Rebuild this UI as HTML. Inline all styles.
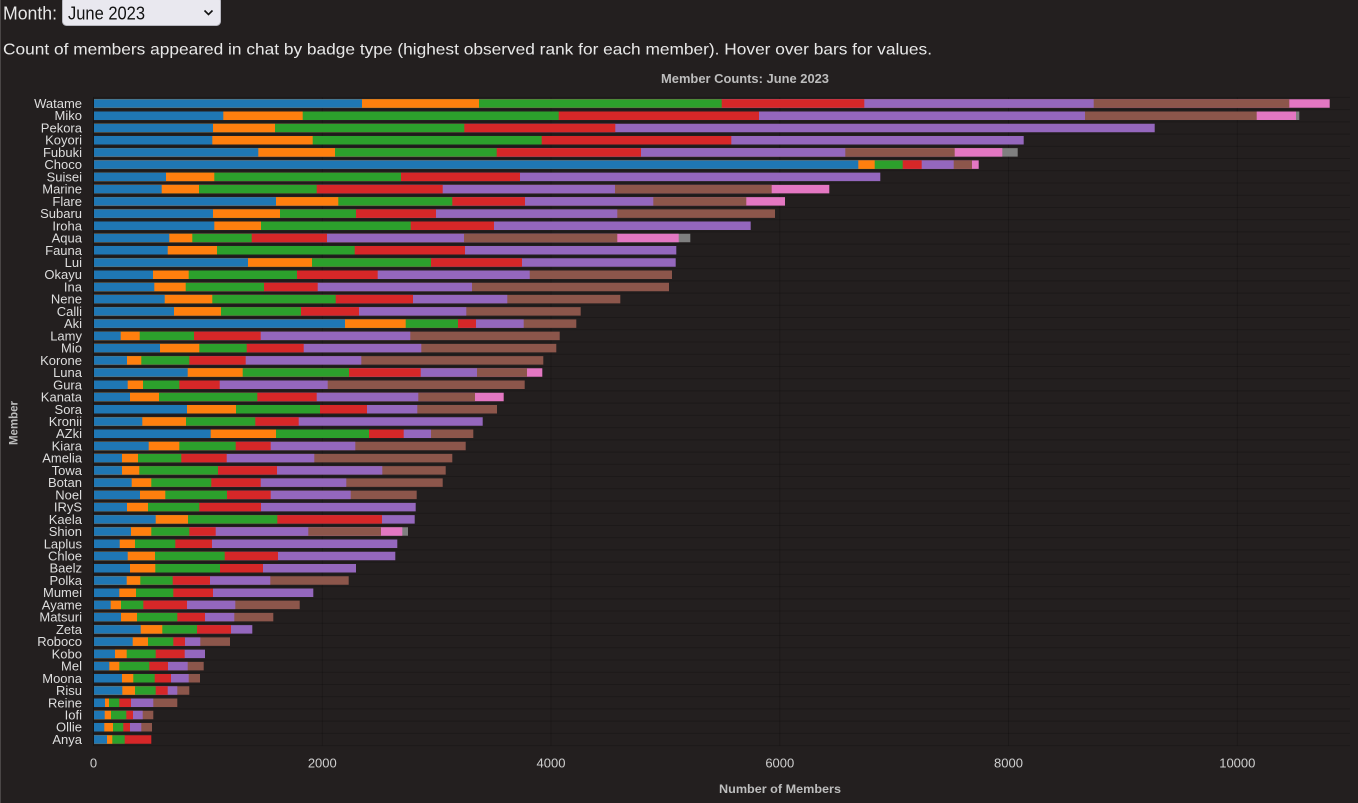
<!DOCTYPE html>
<html>
<head>
<meta charset="utf-8">
<style>
html,body{margin:0;padding:0;background:#231f1f;width:1358px;height:803px;overflow:hidden;}
svg{display:block;}
text{font-family:"Liberation Sans",Arial,sans-serif;}
</style>
</head>
<body>
<svg width="1358" height="803" viewBox="0 0 1358 803" xmlns="http://www.w3.org/2000/svg">
<rect x="0" y="0" width="1358" height="803" fill="#231f1f"/>
<line x1="0.5" y1="0" x2="0.5" y2="803" stroke="#4a4646" stroke-width="1"/>

<!-- header -->
<text x="3" y="19.5" font-size="18" fill="#e8e8e8" textLength="54" lengthAdjust="spacingAndGlyphs">Month:</text>
<rect x="62.5" y="-3" width="158" height="28.5" rx="4" ry="4" fill="#e9e8ef" stroke="#b8b8c0" stroke-width="1"/>
<text x="68" y="19.5" font-size="18" fill="#111" textLength="77" lengthAdjust="spacingAndGlyphs">June 2023</text>
<path d="M204.5 10.5 L208.5 14.5 L212.5 10.5" fill="none" stroke="#111" stroke-width="1.6"/>
<text x="3" y="54.3" font-size="16" fill="#e8e8e8" textLength="929" lengthAdjust="spacingAndGlyphs">Count of members appeared in chat by badge type (highest observed rank for each member). Hover over bars for values.</text>

<!-- title -->
<text x="745" y="83" font-size="13" font-weight="bold" fill="#bdbdbd" text-anchor="middle" textLength="168" lengthAdjust="spacingAndGlyphs">Member Counts: June 2023</text>

<!-- grid -->
<g stroke="rgba(0,0,0,0.18)" stroke-width="1" fill="none">
<path d="M93.5 97.4H1350M93.5 109.63H1350M93.5 121.86H1350M93.5 134.09H1350M93.5 146.32H1350M93.5 158.55H1350M93.5 170.78H1350M93.5 183.01H1350M93.5 195.24H1350M93.5 207.47H1350M93.5 219.7H1350M93.5 231.93H1350M93.5 244.16H1350M93.5 256.39H1350M93.5 268.62H1350M93.5 280.85H1350M93.5 293.08H1350M93.5 305.31H1350M93.5 317.54H1350M93.5 329.77H1350M93.5 342H1350M93.5 354.23H1350M93.5 366.46H1350M93.5 378.69H1350M93.5 390.92H1350M93.5 403.15H1350M93.5 415.38H1350M93.5 427.61H1350M93.5 439.84H1350M93.5 452.07H1350M93.5 464.3H1350M93.5 476.53H1350M93.5 488.76H1350M93.5 500.99H1350M93.5 513.22H1350M93.5 525.45H1350M93.5 537.68H1350M93.5 549.91H1350M93.5 562.14H1350M93.5 574.37H1350M93.5 586.6H1350M93.5 598.83H1350M93.5 611.06H1350M93.5 623.29H1350M93.5 635.52H1350M93.5 647.75H1350M93.5 659.98H1350M93.5 672.21H1350M93.5 684.44H1350M93.5 696.67H1350M93.5 708.9H1350M93.5 721.13H1350M93.5 733.36H1350M93.5 745.59H1350"/>
<path d="M322.3 97.4V745.6M551 97.4V745.6M779.8 97.4V745.6M1008.5 97.4V745.6M1237.3 97.4V745.6"/>
</g>
<line x1="93.5" y1="97.4" x2="93.5" y2="745.6" stroke="rgba(0,0,0,0.35)" stroke-width="1"/>

<!-- bars: drawn longest cumulative segment first -->
<g fill="none" stroke-width="8.5">
<path stroke="#7f7f7f" d="M94 115.73H1299.3M94 152.42H1017.7M94 238.03H690.3M94 531.55H408"/>
<path stroke="#e377c2" d="M94 103.5H1329.7M94 115.73H1296M94 152.42H1002.3M94 164.65H978.7M94 189.11H829.3M94 201.34H785M94 238.03H678.7M94 372.56H542.3M94 397.02H503.7M94 531.55H402.3"/>
<path stroke="#8c564b" d="M94 103.5H1289.3M94 115.73H1256.7M94 152.42H954.7M94 164.65H972M94 189.11H771.7M94 201.34H746.3M94 213.57H775M94 238.03H617.3M94 274.72H672M94 286.95H669M94 299.18H620.3M94 311.41H580.7M94 323.64H576.3M94 335.87H559.7M94 348.1H556.3M94 360.33H543.3M94 372.56H527M94 384.79H524.7M94 397.02H475M94 409.25H497M94 433.71H473.3M94 445.94H465.7M94 458.17H452.3M94 470.4H445.7M94 482.63H442.7M94 494.86H416.7M94 531.55H381M94 580.47H348.7M94 604.93H299.7M94 617.16H273.3M94 641.62H230M94 666.08H203.7M94 678.31H200M94 690.54H189.3M94 702.77H177.3M94 715H153.3M94 727.23H152"/>
<path stroke="#9467bd" d="M94 103.5H1093.7M94 115.73H1085M94 127.96H1154.7M94 140.19H1023.7M94 152.42H845.3M94 164.65H953.7M94 176.88H880.3M94 189.11H615M94 201.34H653.3M94 213.57H617.3M94 225.8H750.7M94 238.03H464M94 250.26H676.3M94 262.49H675.7M94 274.72H529.7M94 286.95H472M94 299.18H507.3M94 311.41H466.3M94 323.64H523.7M94 335.87H410.3M94 348.1H421.3M94 360.33H361.3M94 372.56H477M94 384.79H327.7M94 397.02H418.3M94 409.25H417.3M94 421.48H482.7M94 433.71H431M94 445.94H355.3M94 458.17H314.3M94 470.4H382.3M94 482.63H346.3M94 494.86H350.7M94 507.09H415.7M94 519.32H414.7M94 531.55H308.3M94 543.78H397.3M94 556.01H395.3M94 568.24H356M94 580.47H270.3M94 592.7H313.3M94 604.93H235.3M94 617.16H234.3M94 629.39H252.3M94 641.62H200.3M94 653.85H205M94 666.08H187.7M94 678.31H188.7M94 690.54H177.3M94 702.77H153.3M94 715H142.7M94 727.23H141.3"/>
<path stroke="#d62728" d="M94 103.5H864.3M94 115.73H759M94 127.96H615.3M94 140.19H731.3M94 152.42H641M94 164.65H921.7M94 176.88H520M94 189.11H442.7M94 201.34H525M94 213.57H436M94 225.8H494M94 238.03H327M94 250.26H465M94 262.49H522M94 274.72H377.7M94 286.95H317.7M94 299.18H413M94 311.41H359M94 323.64H476M94 335.87H260.7M94 348.1H303.7M94 360.33H245.7M94 372.56H420.7M94 384.79H219.7M94 397.02H316.7M94 409.25H367M94 421.48H298.7M94 433.71H403.7M94 445.94H270.7M94 458.17H226.7M94 470.4H277M94 482.63H260.7M94 494.86H270.7M94 507.09H261M94 519.32H382M94 531.55H215.7M94 543.78H212M94 556.01H278M94 568.24H263M94 580.47H210M94 592.7H213M94 604.93H187M94 617.16H205M94 629.39H231M94 641.62H185M94 653.85H184.7M94 666.08H168M94 678.31H171M94 690.54H167.7M94 702.77H131M94 715H133M94 727.23H130M94 739.46H151.3"/>
<path stroke="#2ca02c" d="M94 103.5H721.7M94 115.73H558.7M94 127.96H464.3M94 140.19H541.7M94 152.42H496.7M94 164.65H902.7M94 176.88H401M94 189.11H316.7M94 201.34H452.3M94 213.57H356M94 225.8H410.7M94 238.03H251.7M94 250.26H354.7M94 262.49H431M94 274.72H297M94 286.95H264M94 299.18H335.7M94 311.41H301M94 323.64H458M94 335.87H194M94 348.1H246.7M94 360.33H189.3M94 372.56H349M94 384.79H179.3M94 397.02H257.3M94 409.25H320M94 421.48H255.3M94 433.71H369M94 445.94H235.7M94 458.17H181.3M94 470.4H218M94 482.63H211.3M94 494.86H227M94 507.09H199.3M94 519.32H277.3M94 531.55H189.3M94 543.78H175.3M94 556.01H224.7M94 568.24H220M94 580.47H172.7M94 592.7H173.3M94 604.93H143.3M94 617.16H177.3M94 629.39H197M94 641.62H173.3M94 653.85H155.7M94 666.08H149.3M94 678.31H154.7M94 690.54H155.7M94 702.77H119.3M94 715H126.3M94 727.23H123.3M94 739.46H124.7"/>
<path stroke="#ff7f0e" d="M94 103.5H479M94 115.73H302.7M94 127.96H275M94 140.19H312.7M94 152.42H335M94 164.65H874.7M94 176.88H214.3M94 189.11H199M94 201.34H338.3M94 213.57H280M94 225.8H261M94 238.03H192.3M94 250.26H217M94 262.49H312M94 274.72H188.7M94 286.95H185.7M94 299.18H212.3M94 311.41H221M94 323.64H405.7M94 335.87H139.7M94 348.1H199.3M94 360.33H141.3M94 372.56H242.7M94 384.79H143M94 397.02H159M94 409.25H236M94 421.48H186M94 433.71H276M94 445.94H179.3M94 458.17H138M94 470.4H139.3M94 482.63H151.3M94 494.86H165.3M94 507.09H148M94 519.32H188M94 531.55H151.3M94 543.78H135M94 556.01H155M94 568.24H155.3M94 580.47H140.3M94 592.7H136M94 604.93H121M94 617.16H137M94 629.39H162.3M94 641.62H148M94 653.85H126.7M94 666.08H119.3M94 678.31H133.3M94 690.54H135M94 702.77H109M94 715H111M94 727.23H113M94 739.46H112.3"/>
<path stroke="#1f77b4" d="M94 103.5H362M94 115.73H223.3M94 127.96H213M94 140.19H212.3M94 152.42H258.3M94 164.65H858.3M94 176.88H166M94 189.11H161.7M94 201.34H276M94 213.57H213M94 225.8H214.3M94 238.03H169.3M94 250.26H167.7M94 262.49H248M94 274.72H153M94 286.95H154.3M94 299.18H164.7M94 311.41H174M94 323.64H345M94 335.87H120.7M94 348.1H160M94 360.33H127M94 372.56H187.7M94 384.79H127.7M94 397.02H130M94 409.25H187M94 421.48H142.3M94 433.71H210.7M94 445.94H148.7M94 458.17H122M94 470.4H122M94 482.63H131.7M94 494.86H140M94 507.09H127M94 519.32H155.7M94 531.55H131M94 543.78H119.7M94 556.01H127.7M94 568.24H130M94 580.47H126.7M94 592.7H119.3M94 604.93H110.7M94 617.16H121M94 629.39H140.7M94 641.62H132.7M94 653.85H115M94 666.08H109.3M94 678.31H122M94 690.54H122.3M94 702.77H105M94 715H104.7M94 727.23H104.3M94 739.46H107"/>
</g>

<!-- y labels -->
<g font-size="13" fill="#dedede" text-anchor="end">
<text x="82" y="108">Watame</text>
<text x="82" y="120.23">Miko</text>
<text x="82" y="132.46">Pekora</text>
<text x="82" y="144.69">Koyori</text>
<text x="82" y="156.92">Fubuki</text>
<text x="82" y="169.15">Choco</text>
<text x="82" y="181.38">Suisei</text>
<text x="82" y="193.61">Marine</text>
<text x="82" y="205.84">Flare</text>
<text x="82" y="218.07">Subaru</text>
<text x="82" y="230.3">Iroha</text>
<text x="82" y="242.53">Aqua</text>
<text x="82" y="254.76">Fauna</text>
<text x="82" y="266.99">Lui</text>
<text x="82" y="279.22">Okayu</text>
<text x="82" y="291.45">Ina</text>
<text x="82" y="303.68">Nene</text>
<text x="82" y="315.91">Calli</text>
<text x="82" y="328.14">Aki</text>
<text x="82" y="340.37">Lamy</text>
<text x="82" y="352.6">Mio</text>
<text x="82" y="364.83">Korone</text>
<text x="82" y="377.06">Luna</text>
<text x="82" y="389.29">Gura</text>
<text x="82" y="401.52">Kanata</text>
<text x="82" y="413.75">Sora</text>
<text x="82" y="425.98">Kronii</text>
<text x="82" y="438.21">AZki</text>
<text x="82" y="450.44">Kiara</text>
<text x="82" y="462.67">Amelia</text>
<text x="82" y="474.9">Towa</text>
<text x="82" y="487.13">Botan</text>
<text x="82" y="499.36">Noel</text>
<text x="82" y="511.59">IRyS</text>
<text x="82" y="523.82">Kaela</text>
<text x="82" y="536.05">Shion</text>
<text x="82" y="548.28">Laplus</text>
<text x="82" y="560.51">Chloe</text>
<text x="82" y="572.74">Baelz</text>
<text x="82" y="584.97">Polka</text>
<text x="82" y="597.2">Mumei</text>
<text x="82" y="609.43">Ayame</text>
<text x="82" y="621.66">Matsuri</text>
<text x="82" y="633.89">Zeta</text>
<text x="82" y="646.12">Roboco</text>
<text x="82" y="658.35">Kobo</text>
<text x="82" y="670.58">Mel</text>
<text x="82" y="682.81">Moona</text>
<text x="82" y="695.04">Risu</text>
<text x="82" y="707.27">Reine</text>
<text x="82" y="719.5">Iofi</text>
<text x="82" y="731.73">Ollie</text>
<text x="82" y="743.96">Anya</text>
</g>

<!-- x tick labels -->
<g font-size="13" fill="#cfcfcf" text-anchor="middle">
<text x="93.5" y="767.5">0</text>
<text x="322.3" y="767.5">2000</text>
<text x="551" y="767.5">4000</text>
<text x="779.8" y="767.5">6000</text>
<text x="1008.5" y="767.5">8000</text>
<text x="1237.3" y="767.5">10000</text>
</g>

<!-- axis titles -->
<text x="780" y="793" font-size="12" font-weight="bold" fill="#bdbdbd" text-anchor="middle" textLength="122" lengthAdjust="spacingAndGlyphs">Number of Members</text>
<text transform="translate(17.5,423) rotate(-90)" x="0" y="0" font-size="12" font-weight="bold" fill="#bdbdbd" text-anchor="middle" textLength="44" lengthAdjust="spacingAndGlyphs">Member</text>
</svg>
</body>
</html>
